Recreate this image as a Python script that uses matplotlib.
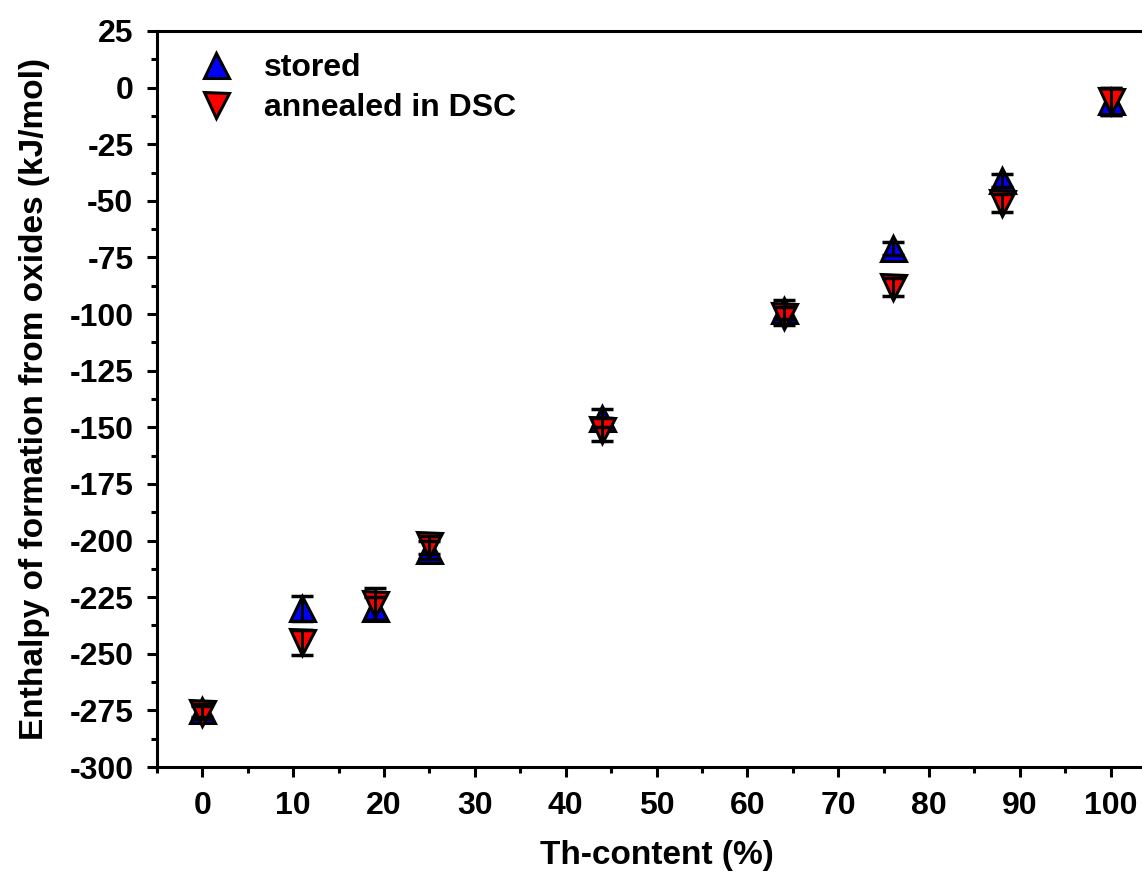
import numpy as np
import matplotlib
matplotlib.use("Agg")
from matplotlib import pyplot as plt
from matplotlib.ticker import MultipleLocator

plt.rcParams['font.family'] = ['Liberation Sans', 'DejaVu Sans']
plt.rcParams['font.weight'] = 'bold'
plt.rcParams['axes.unicode_minus'] = False

# data
th_content = [0, 11, 19, 25, 44, 64, 76, 88, 100]
stored = [-275, -230, -230, -204, -146, -98, -71, -41, -6]
stored_err = [3, 5.5, 5, 4, 4, 4, 3, 3, 6]
annealed = [-276, -245, -228, -202, -151, -101, -88, -51, -6]
annealed_err = [3, 5.5, 7, 4, 5, 4, 4, 4, 6]

W, H = 1142, 872
fig = plt.figure(figsize=(W / 100, H / 100), dpi=100)
# right spine lies beyond the picture edge in the original
ax = fig.add_axes([157 / W, 1 - 767 / H, (1156 - 157) / W, (767 - 31) / H])

ax.plot(th_content, stored, linestyle='none', marker='^', ms=18,
        mfc='#0000ff', mec='black', mew=2.2, label='stored', zorder=3)
ax.plot(th_content, annealed, linestyle='none', marker='v', ms=18,
        mfc='#ff0000', mec='black', mew=2.2, label='annealed in DSC', zorder=3)

# error bars sit on top of the markers
ax.errorbar(th_content, stored, yerr=stored_err, fmt='none', ecolor='black',
            elinewidth=2.2, capsize=8, capthick=2.5, zorder=4)
ax.errorbar(th_content, annealed, yerr=annealed_err, fmt='none', ecolor='black',
            elinewidth=2.2, capsize=8, capthick=2.5, zorder=4)

ax.set_xlim(-5, 105)
ax.set_ylim(-300, 25)
ax.xaxis.set_major_locator(MultipleLocator(10))
ax.xaxis.set_minor_locator(MultipleLocator(5))
ax.yaxis.set_major_locator(MultipleLocator(25))
ax.yaxis.set_minor_locator(MultipleLocator(12.5))

for s in ax.spines.values():
    s.set_linewidth(2.2)
ax.tick_params(which='major', direction='out', length=7, width=2.2, labelsize=23, pad=10)
ax.tick_params(which='minor', direction='out', length=4, width=2.2)
ax.tick_params(top=False, right=False, which='both')

ax.set_xlabel('Th-content (%)', fontsize=24, fontweight='bold', labelpad=14)
ax.set_ylabel('Enthalpy of formation from oxides (kJ/mol)', fontsize=24,
              fontweight='bold', labelpad=14)

leg = ax.legend(loc='upper left', frameon=False, fontsize=23, handletextpad=0.5,
                borderaxespad=0.3, labelspacing=0.3, bbox_to_anchor=(0.005, 1.0))

fig.savefig('out.png', dpi=100)
